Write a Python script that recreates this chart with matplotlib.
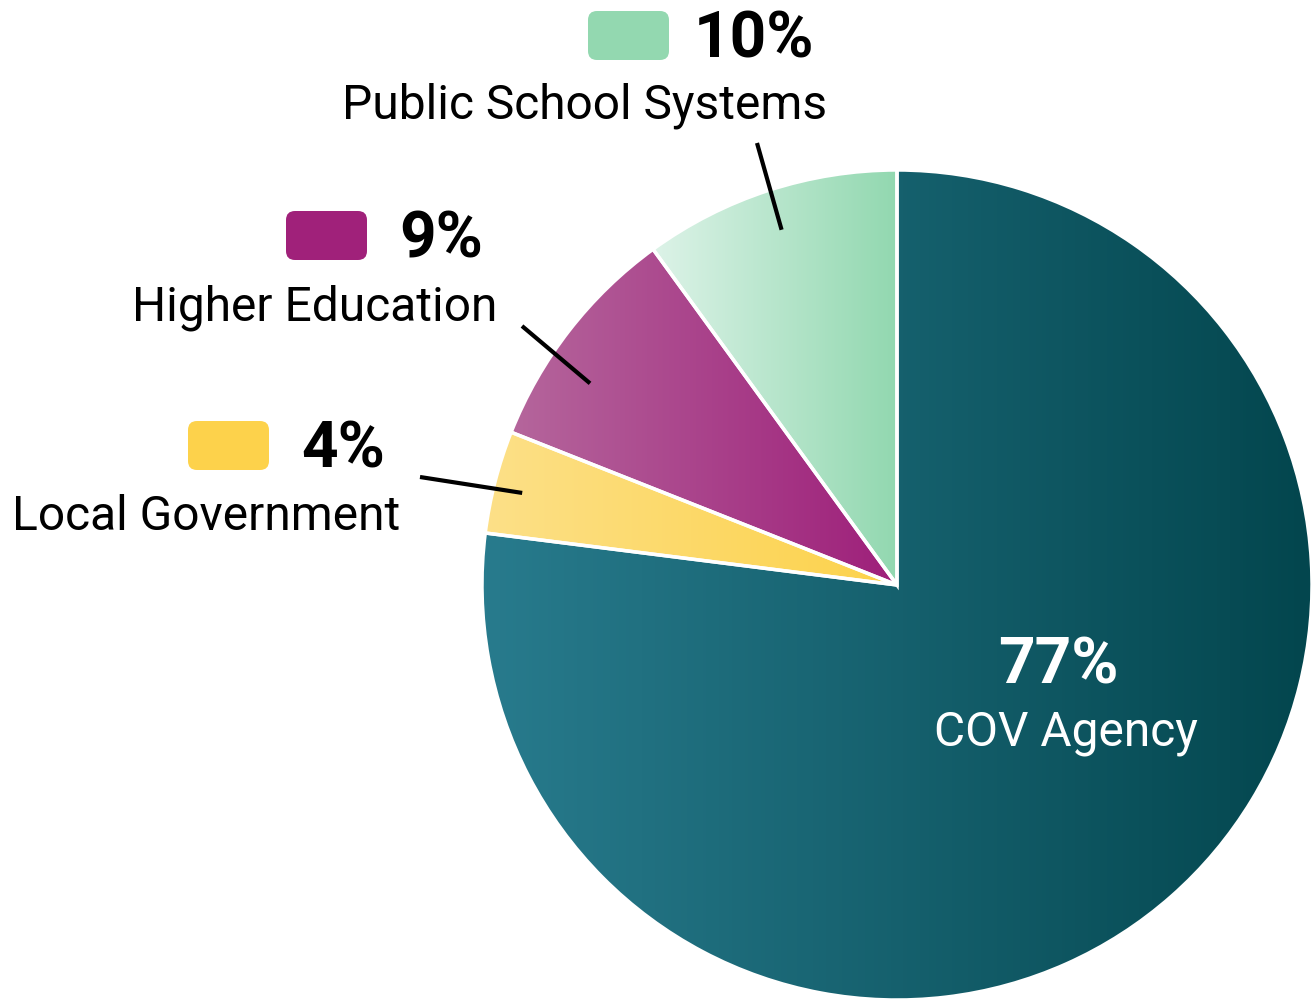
import numpy as np
import matplotlib
matplotlib.use("Agg")
import matplotlib.pyplot as plt
from matplotlib.colors import LinearSegmentedColormap
from matplotlib.patches import FancyBboxPatch

# data
labels = ["Public School Systems", "Higher Education", "Local Government", "COV Agency"]
shares = [10, 9, 4, 77]
pct_text = ["10%", "9%", "4%", "77%"]
# gradient (left, right) for each slice
grad_left = ["#DDF3E8", "#B5669C", "#FCE088", "#287B8D"]
grad_right = ["#92D8B0", "#9E1F7A", "#FDD24A", "#03464E"]
swatch = ["#93D8B0", "#A0217A", "#FDD24B"]

plt.rcParams["font.family"] = ["Roboto", "DejaVu Sans"]

W, H = 1311, 1006
fig = plt.figure(figsize=(W / 100, H / 100), dpi=100)
ax = fig.add_axes([0, 0, 1, 1])

cx, cy, r = 897, H - 585, 415
wedges, _ = ax.pie(shares, startangle=90, counterclock=True, center=(cx, cy),
                   radius=r, wedgeprops=dict(facecolor="none", edgecolor="white",
                                             linewidth=2.5, zorder=3))

for w, c0, c1 in zip(wedges, grad_left, grad_right):
    bb = w.get_path().get_extents()
    cm = LinearSegmentedColormap.from_list("g", [c0, c1])
    grad = np.linspace(0, 1, 256).reshape(1, -1)
    im = ax.imshow(grad, extent=[bb.x0, bb.x1, bb.y0, bb.y1], cmap=cm,
                   aspect="auto", zorder=2, interpolation="bilinear")
    im.set_clip_path(w)

# outside labels: swatch box, bold percent, name, leader line
# (swatch x, swatch top, pct x, name center x, name baseline, line outer end)
lab_pos = [
    (588, 11, 694, 585, 118, (757, 143)),
    (286, 211, 399, 315, 320, (522, 326)),
    (188, 421, 301, 206, 530, (420, 477)),
]
line_r = [0.9, 0.885, 0.93]
line_dang = [0, 4.5, 0.6]
theta = 90.0
for i, (sx, sy, px, nx, nb, (lx, ly)) in enumerate(lab_pos):
    ax.add_patch(FancyBboxPatch((sx, H - sy - 49), 81, 49,
                                boxstyle="round,pad=0,rounding_size=9",
                                facecolor=swatch[i], edgecolor="none", zorder=4))
    ax.text(px, H - (sy + 46), pct_text[i], fontsize=46, fontweight="bold",
            color="black", ha="left", va="baseline")
    ax.text(nx, H - nb, labels[i], fontsize=34.5, color="black",
            ha="center", va="baseline")
    mid = np.deg2rad(theta + shares[i] * 3.6 / 2 + line_dang[i])
    rr = line_r[i] * r
    ax.plot([lx, cx + rr * np.cos(mid)], [H - ly, cy + rr * np.sin(mid)],
            color="black", lw=3, zorder=5, solid_capstyle="butt")
    theta += shares[i] * 3.6

ax.text(1058, H - 683, pct_text[3], fontsize=46, fontweight="bold",
        color="white", ha="center", va="baseline", zorder=6)
ax.text(1066, H - 746, labels[3], fontsize=34.5, color="white",
        ha="center", va="baseline", zorder=6)

ax.set_xlim(0, W)
ax.set_ylim(0, H)
ax.set_aspect("auto")
ax.axis("off")

fig.savefig("out.png", dpi=100)
